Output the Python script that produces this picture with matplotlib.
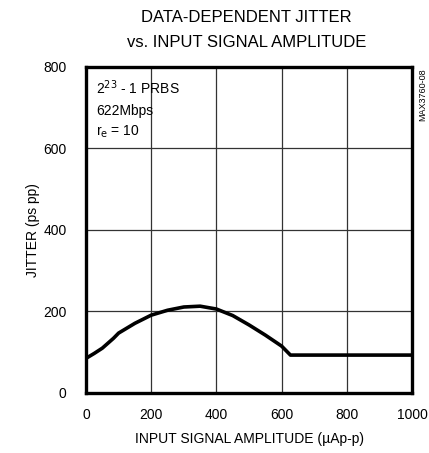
import matplotlib
matplotlib.use("Agg")
import matplotlib.pyplot as plt

plt.rcParams['font.family'] = ['Liberation Sans Narrow', 'Liberation Sans', 'DejaVu Sans']

# values
amplitude = [0, 25, 50, 84, 100, 150, 200, 250, 300, 350, 400, 450, 500, 550, 600, 627, 700, 800, 900, 1000]
jitter = [85, 97, 110, 134, 147, 171, 191, 203, 211, 213, 206, 190, 167, 142, 115, 93, 93, 93, 93, 93]

x_ticks = [0, 200, 400, 600, 800, 1000]
y_ticks = [0, 200, 400, 600, 800]

fig = plt.figure(figsize=(4.29, 4.53), dpi=100)
ax = fig.add_axes([0.2005, 0.1325, 0.760, 0.7196])

ax.plot(amplitude, jitter, color='black', linewidth=2.6, solid_joinstyle='round')

ax.set_xlim(0, 1000)
ax.set_ylim(0, 800)
ax.set_xticks(x_ticks)
ax.set_yticks(y_ticks)
ax.tick_params(axis='y', length=0, labelsize=10, pad=14)
ax.tick_params(axis='x', length=0, labelsize=10, pad=11)
ax.grid(True, color='#333333', linewidth=0.9)
for s in ax.spines.values():
    s.set_linewidth(2.4)

ax.set_xlabel('INPUT SIGNAL AMPLITUDE (\u00b5Ap-p)', fontsize=10, labelpad=7)
ax.set_ylabel('JITTER (ps pp)', fontsize=10)
ax.yaxis.set_label_coords(-0.14, 0.5)
fig.text(0.575, 0.978, 'DATA-DEPENDENT JITTER\nvs. INPUT SIGNAL AMPLITUDE',
         ha='center', va='top', fontsize=12, linespacing=1.8)

ax.text(0.03, 0.935, '2$^{23}$ - 1 PRBS', transform=ax.transAxes, fontsize=10, va='center')
ax.text(0.03, 0.866, '622Mbps', transform=ax.transAxes, fontsize=10, va='center')
ax.text(0.03, 0.80, 'r$_{\\mathrm{e}}$ = 10', transform=ax.transAxes, fontsize=10, va='center')

fig.text(0.986, 0.85, 'MAX3760-08', rotation=90, fontsize=6.5, ha='center', va='top')

fig.savefig('out.png', dpi=100)
